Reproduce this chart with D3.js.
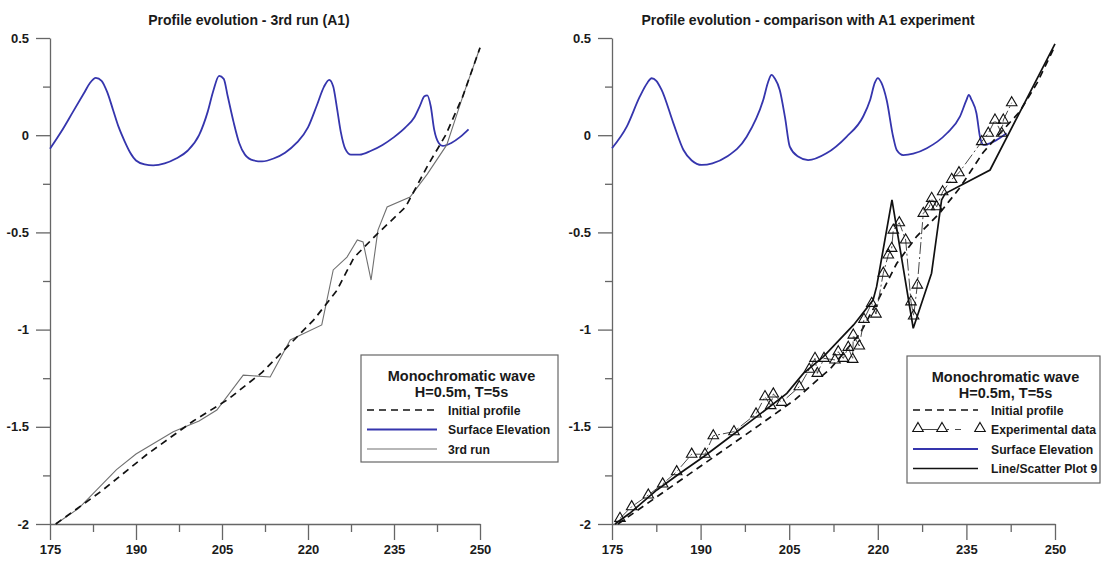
<!DOCTYPE html>
<meta charset="utf-8">
<style>
body { margin: 0; background: #fff; }
svg text { font-family: "Liberation Sans", Arial, sans-serif; font-weight: bold; fill: #1a1a1a; }
.axis path, .axis line { stroke: #666; stroke-width: 1.3; fill: none; }
.axis text { font-size: 13px; }
.title { font-size: 14px; text-anchor: middle; }
.leg { font-size: 12.2px; }
.legtitle { font-size: 14.5px; text-anchor: middle; }
</style>
<svg width="1102" height="563"></svg>
<script src="https://cdn.jsdelivr.net/npm/d3@7/dist/d3.min.js"></script>
<script>

var xMajor = [175, 190, 205, 220, 235, 250],
    xMinor = [182.5, 197.5, 212.5, 227.5, 242.5],
    yMajor = [0.5, 0, -0.5, -1, -1.5, -2],
    yMinor = [0.25, -0.25, -0.75, -1.25, -1.75];

// left panel : profile evolution, 3rd run
var initialLeft = [[176,-2],[184,-1.83],[192,-1.64],[200,-1.47],[206,-1.36],[212,-1.22],[217,-1.07],
  [221,-0.95],[225,-0.8],[228,-0.63],[232,-0.51],[237,-0.37],[241,-0.15],[244,0],[247,0.2],[250,0.45]];
var run3 = [[176,-2],[180,-1.92],[186.6,-1.72],[190,-1.64],[196.5,-1.525],[201,-1.47],[204.1,-1.414],
  [208.7,-1.234],[213.4,-1.244],[216.9,-1.053],[222.4,-0.976],[224.4,-0.693],[226.8,-0.627],[228.6,-0.539],
  [229.6,-0.549],[231,-0.745],[232.2,-0.488],[233.8,-0.369],[237.8,-0.318],[240.8,-0.2],[244.2,-0.05],
  [247,0.2],[250,0.45]];
var surfaceLeft = [[175,-0.07],[177,0.02],[179,0.12],[181,0.22],[182,0.27],[183,0.295],[184,0.28],[185,0.22],
  [186,0.13],[187,0.04],[188,-0.03],[189,-0.09],[190,-0.13],[191.5,-0.15],[193,-0.155],[195,-0.145],[197,-0.12],
  [199,-0.08],[201,0],[202.5,0.12],[203.5,0.23],[204.5,0.305],[205.3,0.29],[206,0.2],[207,0.07],[208,-0.04],
  [209,-0.1],[210.5,-0.13],[212,-0.135],[214,-0.12],[216,-0.09],[218,-0.04],[220,0.04],[221.5,0.15],[222.8,0.25],
  [223.7,0.285],[224.4,0.25],[225,0.15],[225.7,0.02],[226.5,-0.07],[227.5,-0.1],[229,-0.1],[231,-0.08],[233,-0.05],
  [235,-0.01],[237,0.04],[238.5,0.09],[239.5,0.15],[240.3,0.2],[240.8,0.205],[241.4,0.15],[242,0.03],[242.8,-0.04],
  [243.5,-0.055],[245,-0.04],[246.5,-0.01],[248,0.03]];

// right panel : comparison with A1 experiment
var initialRight = [[176,-2],[184,-1.83],[192,-1.66],[200,-1.49],[206,-1.36],[212,-1.2],[217,-1.02],[220,-0.85],
  [223.2,-0.66],[226.6,-0.52],[230.5,-0.4],[233.9,-0.27],[237.8,-0.09],[241,0.02],[244,0.12],[247,0.27],[250,0.46]];
var plot9 = [[175.5,-2],[178,-1.945],[182.6,-1.825],[186.5,-1.739],[190.5,-1.654],[195,-1.551],[199.5,-1.448],
  [204.6,-1.328],[207.4,-1.225],[210.8,-1.139],[215.9,-0.976],[219.2,-0.848],[219.8,-0.779],[222.4,-0.333],
  [226,-0.993],[229.1,-0.71],[230.8,-0.333],[231.4,-0.3],[239,-0.179],[250,0.47]];
var experiment = [[176.35,-1.971],[178.33,-1.911],[181.15,-1.851],[183.58,-1.794],[185.95,-1.731],[188.49,-1.641],
  [190.74,-1.641],[192.15,-1.546],[195.65,-1.525],[199.38,-1.434],[200.9,-1.345],[201.87,-1.391],[202.31,-1.331],
  [203.73,-1.374],[206.71,-1.294],[208.4,-1.204],[209.37,-1.148],[209.76,-1.225],[210.89,-1.148],[212.75,-1.156],
  [213.31,-1.114],[214.16,-1.148],[215,-1.091],[215.75,-1.153],[215.85,-1.028],[216.87,-1.084],[217.66,-0.947],
  [218.97,-0.865],[219.69,-0.92],[220.93,-0.71],[221.78,-0.616],[222.35,-0.582],[222.62,-0.488],[223.64,-0.45],
  [224.72,-0.539],[225.62,-0.857],[226.07,-0.93],[226.69,-0.771],[227.7,-0.402],[228.72,-0.368],[229.12,-0.325],
  [229.97,-0.368],[230.98,-0.291],[232.51,-0.227],[233.74,-0.193],[237.59,-0.033],[238.71,0.01],[239.84,0.078],
  [240.97,0.01],[241.25,0.078],[242.67,0.167]];
var surfaceRight = [[175,-0.067],[177.5,0.044],[179.7,0.198],[181,0.27],[181.7,0.293],[182.5,0.28],[183.4,0.233],
  [185.4,0.061],[187.1,-0.076],[188.5,-0.13],[190.2,-0.153],[192,-0.145],[194.4,-0.111],[197.8,-0.008],[200.6,0.181],
  [201.5,0.28],[202,0.31],[202.6,0.29],[203.4,0.233],[204.3,0.09],[205.1,-0.059],[206.5,-0.11],[208.2,-0.128],
  [211.3,-0.093],[214.7,-0.008],[217.5,0.095],[218.7,0.181],[219.5,0.27],[220,0.294],[220.6,0.27],[221.5,0.181],
  [222.6,-0.008],[223.2,-0.076],[224.3,-0.102],[226,-0.095],[228.3,-0.067],[231.7,0.01],[233.9,0.095],[235,0.18],
  [235.4,0.207],[235.9,0.18],[236.7,0.113],[237.3,-0.008],[237.9,-0.05],[239.6,-0.033],[241.8,0.01]];

var svg = d3.select("svg");
var blue = "#3535ad";

function panel(x0, x1, title, titleX) {
  var x = d3.scaleLinear().domain([175, 250]).range([x0, x1]),
      y = d3.scaleLinear().domain([-2, 0.5]).range([524, 38]),
      g = svg.append("g");

  g.append("g").attr("class", "axis").attr("transform", "translate(0,524)")
    .call(d3.axisBottom(x).tickValues(xMinor).tickSize(8).tickFormat(function() { return ""; }))
    .select(".domain").remove();
  g.append("g").attr("class", "axis").attr("transform", "translate(0,524)")
    .call(d3.axisBottom(x).tickValues(xMajor).tickSize(16).tickSizeOuter(0).tickPadding(5)
      .tickFormat(function(d) { return d; }));
  g.append("g").attr("class", "axis").attr("transform", "translate(" + x0 + ",0)")
    .call(d3.axisLeft(y).tickValues(yMinor).tickSize(7).tickFormat(function() { return ""; }))
    .select(".domain").remove();
  g.append("g").attr("class", "axis").attr("transform", "translate(" + x0 + ",0)")
    .call(d3.axisLeft(y).tickValues(yMajor).tickSize(14).tickSizeOuter(0).tickPadding(7)
      .tickFormat(function(d) { return String(d); }));
  g.selectAll(".axis text").attr("fill", "#1a1a1a");

  g.append("text").attr("class", "title").attr("x", titleX).attr("y", 25).text(title);

  var line = d3.line().x(function(d) { return x(d[0]); }).y(function(d) { return y(d[1]); });
  return { g: g, x: x, y: y, line: line };
}

function legendBox(x, y, w, h) {
  var g = svg.append("g");
  g.append("rect").attr("x", x).attr("y", y).attr("width", w).attr("height", h)
    .attr("fill", "#fff").attr("stroke", "#666").attr("stroke-width", 1.2);
  g.append("text").attr("class", "legtitle").attr("x", x + w / 2 + 2).attr("y", y + 26).text("Monochromatic wave");
  g.append("text").attr("class", "legtitle").attr("x", x + w / 2 + 2).attr("y", y + 42).text("H=0.5m, T=5s");
  return g;
}

// ---------- left ----------
var L = panel(50, 480, "Profile evolution - 3rd run (A1)", 249);
L.g.append("path").datum(surfaceLeft).attr("d", L.line.curve(d3.curveMonotoneX))
  .attr("fill", "none").attr("stroke", blue).attr("stroke-width", 1.8);
L.line.curve(d3.curveLinear);
L.g.append("path").datum(run3).attr("d", L.line)
  .attr("fill", "none").attr("stroke", "#707070").attr("stroke-width", 1.1);
L.g.append("path").datum(initialLeft).attr("d", L.line)
  .attr("fill", "none").attr("stroke", "#111").attr("stroke-width", 1.7).attr("stroke-dasharray", "7,5");

var lg = legendBox(361, 355, 197, 107);
var lrows = [410, 429.5, 449];
lg.append("line").attr("x1", 367).attr("x2", 437).attr("y1", lrows[0]).attr("y2", lrows[0])
  .attr("stroke", "#111").attr("stroke-width", 1.7).attr("stroke-dasharray", "7,5");
lg.append("line").attr("x1", 367).attr("x2", 437).attr("y1", lrows[1]).attr("y2", lrows[1])
  .attr("stroke", blue).attr("stroke-width", 1.8);
lg.append("line").attr("x1", 367).attr("x2", 437).attr("y1", lrows[2]).attr("y2", lrows[2])
  .attr("stroke", "#707070").attr("stroke-width", 1.1);
["Initial profile", "Surface Elevation", "3rd run"].forEach(function(t, i) {
  lg.append("text").attr("class", "leg").attr("x", 448).attr("y", lrows[i] + 4.5).text(t);
});

// ---------- right ----------
var R = panel(612, 1055, "Profile evolution - comparison with A1 experiment", 808);
R.g.append("path").datum(surfaceRight).attr("d", R.line.curve(d3.curveMonotoneX))
  .attr("fill", "none").attr("stroke", blue).attr("stroke-width", 1.8);
R.line.curve(d3.curveLinear);
R.g.append("path").datum(initialRight).attr("d", R.line)
  .attr("fill", "none").attr("stroke", "#111").attr("stroke-width", 1.7).attr("stroke-dasharray", "7,5");
R.g.append("path").datum(experiment).attr("d", R.line)
  .attr("fill", "none").attr("stroke", "#333").attr("stroke-width", 0.9).attr("stroke-dasharray", "12,3,2,3");
R.g.append("path").datum(plot9).attr("d", R.line)
  .attr("fill", "none").attr("stroke", "#111").attr("stroke-width", 1.7);
var tri = d3.symbol().type(d3.symbolTriangle).size(48);
R.g.selectAll(".tri").data(experiment).enter().append("path")
  .attr("class", "tri").attr("d", tri)
  .attr("transform", function(d) { return "translate(" + R.x(d[0]) + "," + R.y(d[1]) + ")"; })
  .attr("fill", "none").attr("stroke", "#111").attr("stroke-width", 1.1);

var rg = legendBox(907, 356, 193, 127);
var rrows = [410, 429.5, 449, 468.5];
rg.append("line").attr("x1", 913).attr("x2", 978).attr("y1", rrows[0]).attr("y2", rrows[0])
  .attr("stroke", "#111").attr("stroke-width", 1.7).attr("stroke-dasharray", "7,5");
rg.append("line").attr("x1", 918).attr("x2", 942).attr("y1", rrows[1]).attr("y2", rrows[1])
  .attr("stroke", "#333").attr("stroke-width", 0.9);
rg.append("line").attr("x1", 942).attr("x2", 980).attr("y1", rrows[1]).attr("y2", rrows[1])
  .attr("stroke", "#333").attr("stroke-width", 0.9).attr("stroke-dasharray", "0,5,2,6,6,30");
[918, 942, 980].forEach(function(cx) {
  rg.append("path").attr("d", tri).attr("transform", "translate(" + cx + "," + (rrows[1] - 1) + ")")
    .attr("fill", "#fff").attr("stroke", "#111").attr("stroke-width", 1.1);
});
rg.append("line").attr("x1", 913).attr("x2", 978).attr("y1", rrows[2]).attr("y2", rrows[2])
  .attr("stroke", blue).attr("stroke-width", 1.8);
rg.append("line").attr("x1", 913).attr("x2", 978).attr("y1", rrows[3]).attr("y2", rrows[3])
  .attr("stroke", "#111").attr("stroke-width", 1.7);
["Initial profile", "Experimental data", "Surface Elevation", "Line/Scatter Plot 9"].forEach(function(t, i) {
  rg.append("text").attr("class", "leg").attr("x", 991).attr("y", rrows[i] + 4.5).text(t);
});

</script>
